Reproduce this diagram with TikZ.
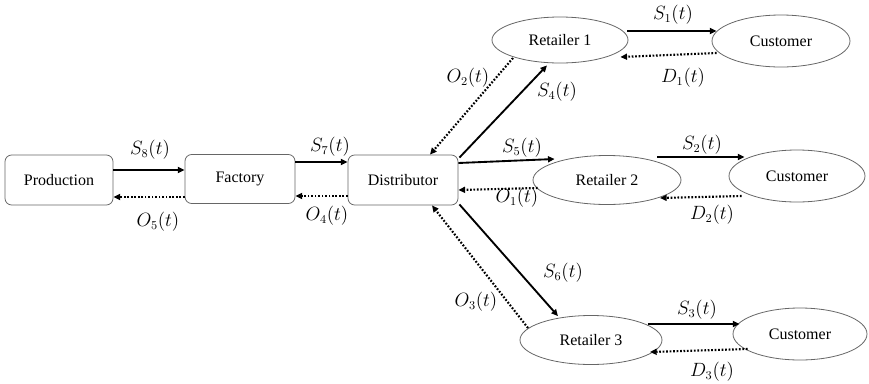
\documentclass[tikz,border=0pt]{standalone}
\usepackage{fontspec}
\setmainfont{Liberation Serif}
\usetikzlibrary{shapes.geometric,arrows.meta,calc}
\def\u{0.75pt}
\tikzset{
  boxnode/.style={draw=black!60, rounded corners=5pt, line width=0.6pt, inner sep=0pt, font=\fontsize{12pt}{14pt}\selectfont},
  ellnode/.style={draw=black!60, ellipse, line width=0.6pt, inner sep=0pt, font=\fontsize{12pt}{14pt}\selectfont},
  supply/.style={line width=1.4pt, -{Triangle[length=5pt,width=4.5pt]}},
  order/.style={line width=1.6pt, dash pattern=on 1.3pt off 1.3pt, -{Triangle[length=5pt,width=4.5pt]}},
  lab/.style={inner sep=0pt, font=\fontsize{13.5pt}{15pt}\selectfont}
}
\begin{document}
\begin{tikzpicture}[x=\u, y=-\u]
\useasboundingbox (0,0) rectangle (869,383);
% nodes
\node[boxnode, minimum width={108*\u}, minimum height={50*\u}] (prod) at (59,180) {Production};
\node[boxnode, minimum width={110*\u}, minimum height={49*\u}] (fac) at (240,179) {Factory};
\node[boxnode, minimum width={110*\u}, minimum height={50*\u}] (dist) at (403,180) {Distributor};
\node[ellnode, minimum width={136*\u}, minimum height={46*\u}] (r1) at (560,40) {Retailer 1};
\node[ellnode, minimum width={138*\u}, minimum height={52*\u}] (c1) at (781,41) {Customer};
\node[ellnode, minimum width={148*\u}, minimum height={49*\u}] (r2) at (607,180) {Retailer 2};
\node[ellnode, minimum width={136*\u}, minimum height={52*\u}] (c2) at (797,176) {Customer};
\node[ellnode, minimum width={142*\u}, minimum height={49*\u}] (r3) at (591,340) {Retailer 3};
\node[ellnode, minimum width={134*\u}, minimum height={52*\u}] (c3) at (800,334) {Customer};
% connectors
\draw[supply] ($(prod.east)+(0,-10)$) -- ($(fac.west)+(0,-9)$);
\draw[order] ($(fac.west)+(0,18)$) -- ($(prod.east)+(0,17)$);
\draw[supply] ($(fac.east)+(0,-17)$) -- ($(dist.west)+(0,-18)$);
\draw[order] ($(dist.west)+(0,16)$) -- ($(fac.east)+(0,17)$);
\draw[supply] ($(dist.north east)+(1,3)$) -- ($(r1.south)+(-13,2)$);
\draw[order] ($(r1.center)+(-47,18)$) -- ($(dist.north)+(27,0)$);
\draw[supply] ($(dist.east)+(0,-17)$) -- ($(r2.west)+(22,-21)$);
\draw[order] ($(r2.west)+(5,8)$) -- ($(dist.east)+(0,10)$);
\draw[supply] ($(dist.south east)+(1,-1)$) -- ($(r3.north)+(-33,1)$);
\draw[order] ($(r3.center)+(-63,-12)$) -- ($(dist.south)+(29,0)$);
\draw[supply] ($(r1.east)+(-1,-9)$) -- ($(c1.west)+(5,-10)$);
\draw[order] ($(c1.west)+(5,12)$) -- ($(r1.east)+(-8,17)$);
\draw[supply] ($(r2.center)+(50,-23)$) -- ($(c2.west)+(16,-19)$);
\draw[order] ($(c2.west)+(13,20)$) -- ($(r2.center)+(53,18)$);
\draw[supply] ($(r3.center)+(57,-16)$) -- ($(c3.west)+(7,-10)$);
\draw[order] ($(c3.west)+(15,15)$) -- ($(r3.center)+(59,12)$);
% labels
\node[lab] (l8) at (150,150) {$S_8(t)$};
\node[lab] (lo5) at (158,222) {$O_5(t)$};
\node[lab] (l7) at (330,147) {$S_7(t)$};
\node[lab] (lo4) at (327,216) {$O_4(t)$};
\node[lab] (l5) at (522,148) {$S_5(t)$};
\node[lab] (lo1) at (517,198) {$O_1(t)$};
\node[lab] (l4) at (557,92) {$S_4(t)$};
\node[lab] (lo2) at (468,78) {$O_2(t)$};
\node[lab] (l6) at (563,273) {$S_6(t)$};
\node[lab] (lo3) at (476,302) {$O_3(t)$};
\node[lab] (l1) at (673,15) {$S_1(t)$};
\node[lab] (ld1) at (683,78) {$D_1(t)$};
\node[lab] (l2) at (702,145) {$S_2(t)$};
\node[lab] (ld2) at (712,215) {$D_2(t)$};
\node[lab] (l3) at (697,310) {$S_3(t)$};
\node[lab] (ld3) at (712,372) {$D_3(t)$};
\end{tikzpicture}
\end{document}
